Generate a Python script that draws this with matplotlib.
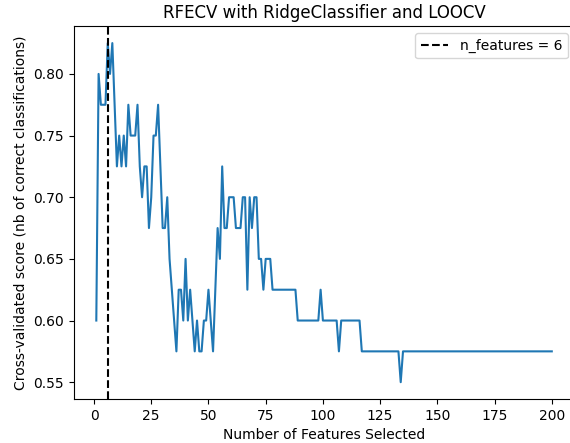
import numpy as np
import matplotlib
matplotlib.use("Agg")
import matplotlib.pyplot as plt

# mean CV score for each number of selected features (LOOCV, 40 samples)
scores_head = [
    0.600, 0.800, 0.775, 0.775, 0.775, 0.825, 0.800, 0.825, 0.775, 0.725,  # 1-10
    0.750, 0.725, 0.750, 0.725, 0.775, 0.750, 0.750, 0.750, 0.775, 0.725,  # 11-20
    0.700, 0.725, 0.725, 0.675, 0.700, 0.750, 0.750, 0.775, 0.725, 0.675,  # 21-30
    0.675, 0.700, 0.650, 0.625, 0.600, 0.575, 0.625, 0.625, 0.600, 0.650,  # 31-40
    0.600, 0.625, 0.600, 0.575, 0.600, 0.575, 0.575, 0.600, 0.600, 0.625,  # 41-50
    0.600, 0.575, 0.625, 0.675, 0.650, 0.725, 0.675, 0.675, 0.700, 0.700,  # 51-60
    0.700, 0.675, 0.675, 0.675, 0.700, 0.700, 0.625, 0.700, 0.675, 0.700,  # 61-70
    0.700, 0.650, 0.650, 0.625, 0.650, 0.650, 0.650,                       # 71-77
]
scores_tail = (
    [0.625] * 11    # 78-88
    + [0.600] * 10  # 89-98
    + [0.625]       # 99
    + [0.600] * 7   # 100-106
    + [0.575]       # 107
    + [0.600] * 9   # 108-116
    + [0.575] * 17  # 117-133
    + [0.550]       # 134
    + [0.575] * 66  # 135-200
)
scores = scores_head + scores_tail
n_features = np.arange(1, len(scores) + 1)
best_n = 6

fig = plt.figure(figsize=(5.7, 4.43), dpi=100)
# the right spine sits just past the image edge in the reference
ax = fig.add_axes([0.129, 0.099, 0.879, 0.842])

ax.plot(n_features, scores)
ax.axvline(x=best_n, color="k", ls="--", label=f"n_features = {best_n}")
ax.set_title("RFECV with RidgeClassifier and LOOCV")
ax.set_xlabel("Number of Features Selected")
ax.set_ylabel("Cross-validated score (nb of correct classifications)")
ax.legend(loc="upper right")

fig.savefig("out.png", dpi=100)
